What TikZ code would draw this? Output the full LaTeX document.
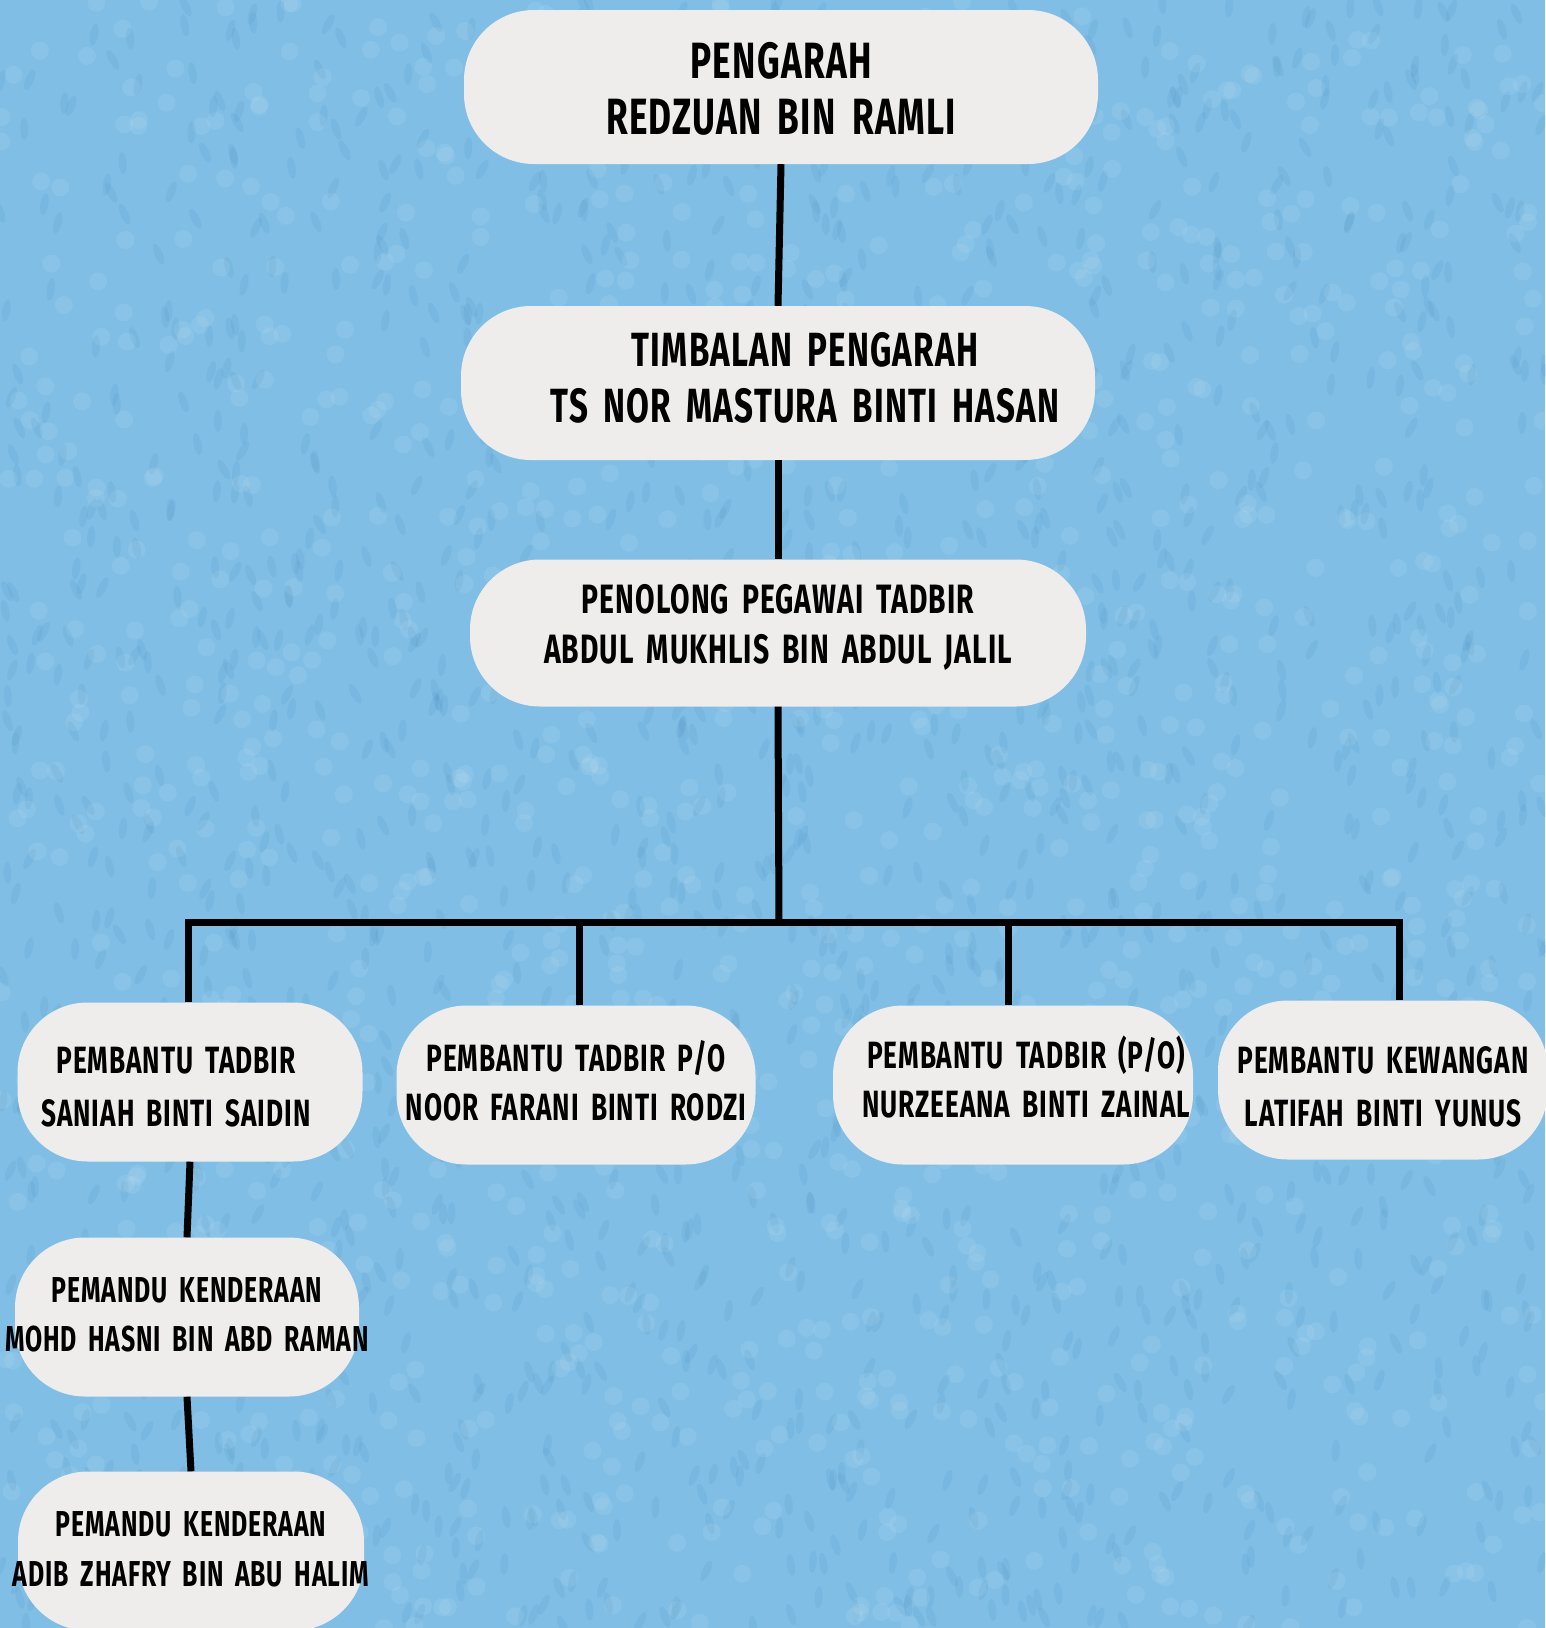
\documentclass[tikz,border=0pt]{standalone}
\usepackage{fontspec}
\setmainfont{Fira Sans}[FakeStretch=0.69, LetterSpace=2.5, WordSpace=1.7]
\usetikzlibrary{positioning}
\definecolor{wallblue}{RGB}{128,190,229}
\definecolor{wallspeck}{RGB}{48,118,170}
\definecolor{boxgrey}{RGB}{238,237,236}
% one centred line that may overflow its box; optional shift of its start
\newcommand{\boxline}[2][0pt]{\makebox[0pt]{\hspace*{#1}#2}}

\tikzset{
    orgbox/.style={rectangle, rounded corners=70pt, fill=boxgrey, inner sep=0pt, align=center},
    headbox/.style={orgbox, minimum width=634pt, minimum height=154pt},
    staffbox/.style={orgbox, minimum height=159pt, font=\bfseries\fontsize{38}{50}\selectfont},
    driverbox/.style={staffbox, font=\bfseries\fontsize{36}{49}\selectfont},
    lift/.style={text depth=0pt, text height=#1},
    link/.style={line width=7pt, black}
}

\begin{document}
\begin{tikzpicture}[x=1pt, y=-1pt]
    \useasboundingbox (0,0) rectangle (1545,1628);
    \fill[wallblue] (0,0) rectangle (1545,1628);
    % paper texture
    \pgfmathsetseed{7}
    \foreach \i in {1,...,1600}{
        \pgfmathsetmacro{\px}{rnd*1545}
        \pgfmathsetmacro{\py}{rnd*1628}
        \pgfmathsetmacro{\pa}{60+rnd*60}
        \fill[wallspeck, opacity=0.09, rotate around={\pa:(\px,\py)}] (\px,\py) ellipse (11pt and 4pt);
    }
    \foreach \i in {1,...,1200}{
        \pgfmathsetmacro{\px}{rnd*1545}
        \pgfmathsetmacro{\py}{rnd*1628}
        \fill[white, opacity=0.08] (\px,\py) circle (9pt);
    }

    % top of the chart
    \node[headbox, lift=95pt, font=\bfseries\fontsize{51}{56}\selectfont] (pengarah) at (781,87)
        {\boxline{PENGARAH}\\ \boxline{REDZUAN BIN RAMLI}};
    \node[headbox, lift=79pt, font=\bfseries\fontsize{48}{56}\selectfont] (timbalan) at (778,383)
        {\boxline[54pt]{TIMBALAN PENGARAH}\\ \boxline[54pt]{TS NOR MASTURA BINTI HASAN}};
    \node[orgbox, lift=60pt, minimum width=616pt, minimum height=147pt, font=\bfseries\fontsize{41}{50}\selectfont] (penolong) at (778,633)
        {\boxline{PENOLONG PEGAWAI TADBIR}\\ \boxline{ABDUL MUKHLIS BIN ABDUL JALIL}};

    % staff row
    \node[staffbox, lift=88pt, minimum width=345pt, font=\bfseries\fontsize{38}{53}\selectfont] (saniah) at (190,1082)
        {\boxline[-28pt]{PEMBANTU TADBIR}\\ \boxline[-28pt]{SANIAH BINTI SAIDIN}};
    \node[staffbox, lift=70pt, minimum width=359pt, font=\bfseries\fontsize{38}{49}\selectfont] (farani) at (576,1085)
        {\boxline{PEMBANTU TADBIR P/O}\\ \boxline{NOOR FARANI BINTI RODZI}};
    \node[staffbox, lift=64pt, minimum width=360pt, font=\bfseries\fontsize{38}{49}\selectfont] (nurzeeana) at (1013,1085)
        {\boxline[26pt]{PEMBANTU TADBIR (P/O)}\\ \boxline[26pt]{NURZEEANA BINTI ZAINAL}};
    \node[staffbox, lift=92pt, minimum width=330pt, font=\bfseries\fontsize{38}{53}\selectfont] (latifah) at (1383,1080)
        {\boxline{PEMBANTU KEWANGAN}\\ \boxline{LATIFAH BINTI YUNUS}};

    % drivers
    \node[driverbox, lift=69pt, minimum width=344pt] (hasni) at (187,1317)
        {\boxline{PEMANDU KENDERAAN}\\ \boxline{MOHD HASNI BIN ABD RAMAN}};
    \node[driverbox, lift=71pt, minimum width=346pt, font=\bfseries\fontsize{36}{50}\selectfont] (adib) at (191,1551)
        {\boxline{PEMANDU KENDERAAN}\\ \boxline{ADIB ZHAFRY BIN ABU HALIM}};

    % connectors
    \coordinate (hub) at (779,922);
    \coordinate (jSaniah) at (188,922);
    \coordinate (jFarani) at (579,922);
    \coordinate (jNurzeeana) at (1008,922);
    \coordinate (jLatifah) at (1399,922);

    \draw[link] (pengarah.south) -- (timbalan.north);
    \draw[link] (timbalan.south) -- (penolong.north);
    \draw[link] (penolong.south) -- (hub);
    \draw[link] (jSaniah |- saniah.north) -- (jSaniah) -- (jLatifah) -- (jLatifah |- latifah.north);
    \draw[link] (jFarani) -- (jFarani |- farani.north);
    \draw[link] (jNurzeeana) -- (jNurzeeana |- nurzeeana.north);
    \draw[link] (saniah.south) -- (hasni.north);
    \draw[link] (hasni.south) -- (adib.north);
\end{tikzpicture}
\end{document}
